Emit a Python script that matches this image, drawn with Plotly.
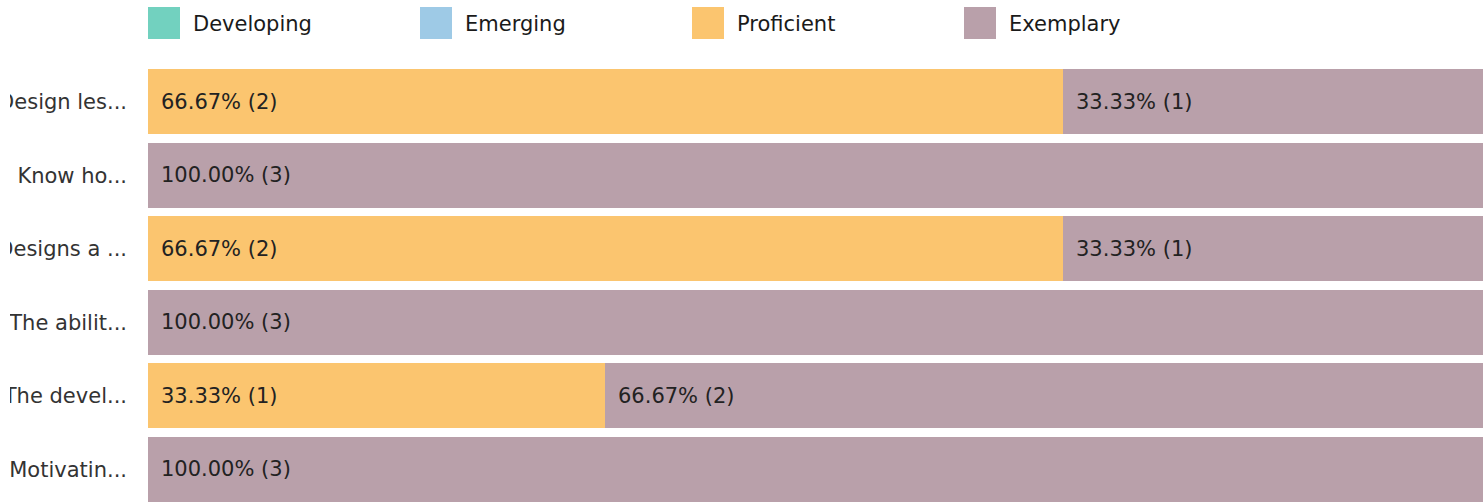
import plotly.graph_objects as go

categories = ["Design les...", "Know ho...", "Designs a ...", "The abilit...", "The devel...", "Motivatin..."]
levels = ["Developing", "Emerging", "Proficient", "Exemplary"]
colors = ["#72d1bf", "#9ecae6", "#fbc56f", "#b9a0aa"]
developing = [0, 0, 0, 0, 0, 0]
emerging = [0, 0, 0, 0, 0, 0]
proficient = [2, 0, 2, 0, 1, 0]
exemplary = [1, 3, 1, 3, 2, 3]
series = [developing, emerging, proficient, exemplary]
totals = [sum(v) for v in zip(*series)]

FONT = "DejaVu Sans"
FS = 21
fig = go.Figure()
annotations = []
cum = [0.0] * len(categories)
for name, color, vals in zip(levels, colors, series):
    pct = [v / t * 100 if t else 0 for v, t in zip(vals, totals)]
    fig.add_trace(go.Bar(
        y=categories, x=pct, name=name, orientation="h",
        marker=dict(color=color, line=dict(width=0)),
        showlegend=False, hoverinfo="skip",
    ))
    for i, (v, p) in enumerate(zip(vals, pct)):
        if v > 0:
            annotations.append(dict(
                x=cum[i], y=categories[i], xref="x", yref="y",
                text=f"{p:.2f}% ({v})", showarrow=False,
                xanchor="left", yanchor="middle", xshift=11,
                font=dict(family=FONT, size=FS, color="#222222"),
            ))
        cum[i] += p

# legend drawn as large square swatches + labels
shapes = []
for k, (name, color) in enumerate(zip(levels, colors)):
    shapes.append(dict(
        type="rect", xref="paper", yref="paper",
        xsizemode="pixel", ysizemode="pixel", xanchor=0, yanchor=1,
        x0=k * 272, x1=k * 272 + 32, y0=30, y1=62,
        fillcolor=color, line=dict(width=0), layer="above",
    ))
    annotations.append(dict(
        x=0, y=1, xref="paper", yref="paper", text=name, showarrow=False,
        xanchor="left", yanchor="middle", xshift=k * 272 + 43, yshift=45,
        font=dict(family=FONT, size=FS, color="#1a1a1a"),
    ))

# clip left edge of the category labels
shapes.append(dict(
    type="rect", xref="paper", yref="paper", xsizemode="pixel", xanchor=0,
    x0=-150, x1=-138, y0=-0.05, y1=1.05,
    fillcolor="white", line=dict(width=0), layer="above",
))

fig.update_layout(
    barmode="stack", bargap=0.11,
    width=1483, height=502,
    margin=dict(l=148, r=0, t=69, b=0, pad=0, autoexpand=False),
    plot_bgcolor="white", paper_bgcolor="white",
    font=dict(family=FONT, size=FS, color="#333333"),
    xaxis=dict(range=[0, 97.3], visible=False, showgrid=False, zeroline=False,
               automargin=False),
    yaxis=dict(
        range=[5.445, -0.445], showgrid=False, zeroline=False, showline=False,
        ticks="", ticklabelstandoff=20, automargin=False,
        tickfont=dict(family=FONT, size=FS, color="#333333"),
    ),
    annotations=annotations, shapes=shapes,
    showlegend=False,
)

fig.write_html(
    "out.html",
    config={"displayModeBar": False},
    post_script="document.body.style.margin='0';document.body.style.overflow='hidden';",
)
